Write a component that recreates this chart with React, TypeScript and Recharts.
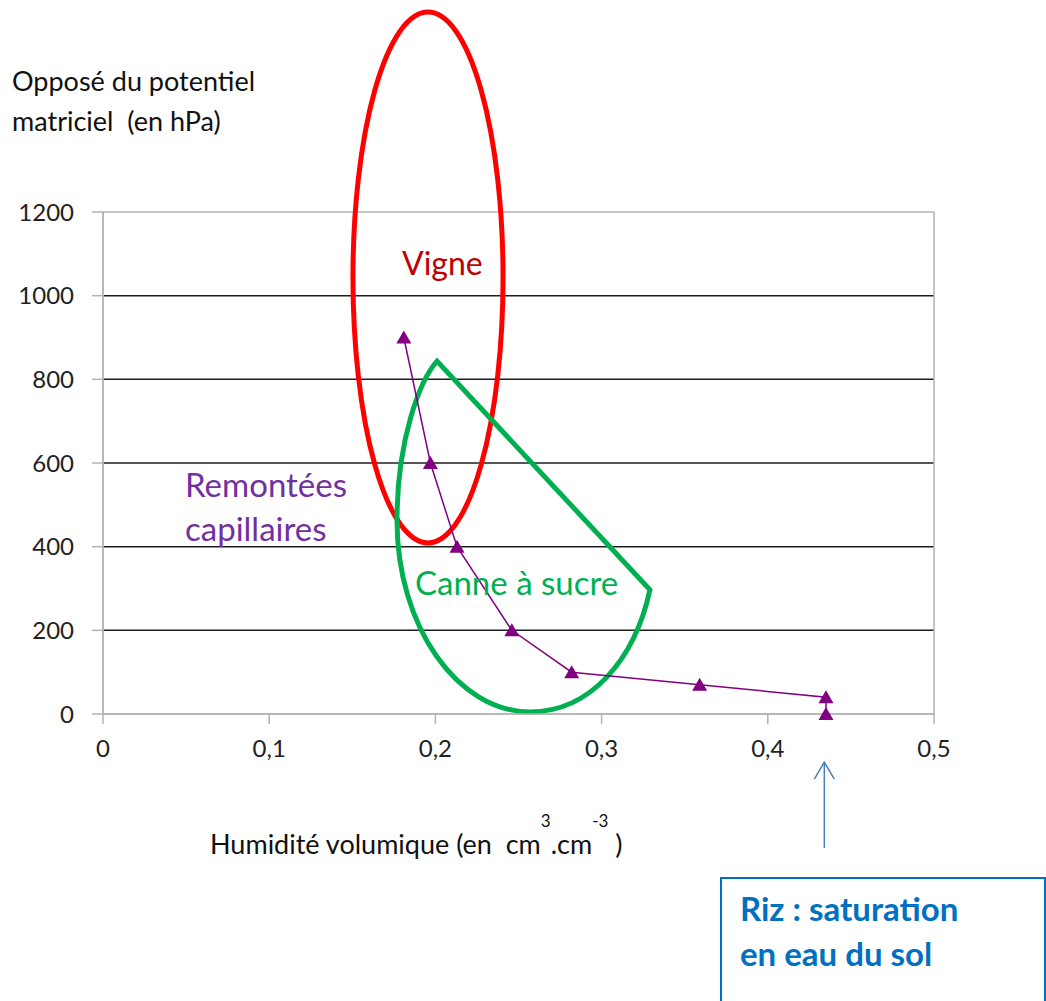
import React from 'react';
import {
  ComposedChart,
  Line,
  XAxis,
  YAxis,
  CartesianGrid,
  ReferenceArea,
  ReferenceLine,
} from 'recharts';

// humidité volumique (cm3.cm-3) et opposé du potentiel matriciel (hPa)
const humidity = [0.181, 0.197, 0.213, 0.246, 0.282, 0.359, 0.435, 0.435];
const suction = [900, 600, 400, 200, 100, 70, 40, 0];
const xTicks = [0, 0.1, 0.2, 0.3, 0.4, 0.5];
const yTicks = [0, 200, 400, 600, 800, 1000, 1200];
const gridValues = [200, 400, 600, 800, 1000];

// zones dessinées à la main, en coordonnées du graphique
const vigneZone = { x1: 0.1504, x2: 0.2407, y1: 409, y2: 1678 };
const canneZone = { x1: 0.1769, x2: 0.3303, y1: 5, y2: 846 };
const rizArrow = [{ x: 0.434, y: -115 }, { x: 0.434, y: -320 }];

const data = humidity.map((h, i) => ({ h, p: suction[i] }));

const FONT = 'Lato, "Open Sans", sans-serif';

const Triangle = (props: any) => {
  const { cx, cy } = props;
  if (cx == null || cy == null) return null;
  return <path d={`M${cx},${cy - 7} L${cx - 7.5},${cy + 6} L${cx + 7.5},${cy + 6} Z`} fill="#800080" />;
};

const VigneShape = (p: any) => {
  const { x, y, width, height } = p;
  return (
    <ellipse
      cx={x + width / 2}
      cy={y + height / 2}
      rx={Math.abs(width) / 2}
      ry={Math.abs(height) / 2}
      fill="none"
      stroke="#ff0000"
      strokeWidth={5}
    />
  );
};

const CanneShape = (p: any) => {
  const { x, y, width: w, height: h } = p;
  const X = (f: number) => x + f * w;
  const Y = (f: number) => y + f * h;
  const d =
    `M${X(0.157)},${Y(0.003)} L${X(0.992)},${Y(0.653)} ` +
    `C${X(0.933)},${Y(0.852)} ${X(0.757)},${Y(1)} ${X(0.522)},${Y(1)} ` +
    `C${X(0.24)},${Y(1)} ${X(0)},${Y(0.76)} ${X(0)},${Y(0.455)} ` +
    `C${X(0)},${Y(0.227)} ${X(0.09)},${Y(0.057)} ${X(0.157)},${Y(0.003)} Z`;
  return <path d={d} fill="none" stroke="#00b050" strokeWidth={5} strokeLinejoin="miter" />;
};

const ArrowShape = (p: any) => {
  const { x1, y1, x2, y2 } = p;
  return (
    <g stroke="#4a7ebb" strokeWidth={1.5} fill="none">
      <line x1={x1} y1={y1} x2={x2} y2={y2} />
      <path d={`M${x1 - 10},${y1 + 17} L${x1},${y1} L${x1 + 10},${y1 + 17}`} />
    </g>
  );
};

const fmt = (v: number) => String(v).replace('.', ',');

export default function App() {
  return (
    <div
      style={{
        position: 'absolute',
        left: 0,
        top: 0,
        width: 1046,
        height: 1001,
        overflow: 'hidden',
        background: '#fff',
        fontFamily: FONT,
      }}
    >
      <ComposedChart
        width={1046}
        height={1001}
        data={data}
        margin={{ top: 212, right: 112, bottom: 227, left: 0 }}
      >
        <CartesianGrid
          vertical={false}
          horizontalValues={gridValues}
          stroke="#1e1e1e"
          strokeWidth={1.5}
        />
        <XAxis
          dataKey="h"
          type="number"
          domain={[0, 0.5]}
          ticks={xTicks}
          tickFormatter={fmt}
          height={60}
          tickSize={10}
          tickMargin={16}
          stroke="#b3b3b3"
          strokeWidth={1.5}
          tick={{ fontSize: 24, fill: '#222', fontFamily: FONT }}
        />
        <YAxis
          dataKey="p"
          type="number"
          domain={[0, 1200]}
          ticks={yTicks}
          width={103}
          tickSize={11}
          tickMargin={18}
          stroke="#b3b3b3"
          strokeWidth={1.5}
          tick={{ fontSize: 24, fill: '#222', fontFamily: FONT }}
        />
        <ReferenceArea x1={0} x2={0.5} y1={0} y2={1200} fill="none" stroke="#b3b3b3" strokeWidth={1.5} />
        <Line
          dataKey="p"
          stroke="#800080"
          strokeWidth={1.5}
          dot={<Triangle />}
          activeDot={false}
          isAnimationActive={false}
        />
        <ReferenceArea {...vigneZone} ifOverflow="visible" shape={<VigneShape />} />
        <ReferenceArea {...canneZone} ifOverflow="visible" shape={<CanneShape />} />
        <ReferenceLine segment={rizArrow} ifOverflow="visible" shape={<ArrowShape />} />
      </ComposedChart>

      <div style={{ position: 'absolute', left: 12, top: 61, fontSize: 27, lineHeight: '40px', color: '#111', whiteSpace: 'nowrap' }}>
        Opposé du potentiel
        <br />
        matriciel&nbsp; (en hPa)
      </div>

      <div style={{ position: 'absolute', left: 210, top: 824, fontSize: 27, lineHeight: '40px', color: '#111', whiteSpace: 'nowrap' }}>
        Humidité volumique (en&nbsp; cm
        <span style={{ position: 'relative', top: -27, fontSize: 17 }}>3</span>
        .cm
        <span style={{ position: 'relative', top: -27, fontSize: 17 }}>-3</span>
        &nbsp;)
      </div>

      <div style={{ position: 'absolute', left: 402, top: 247, fontSize: 32, lineHeight: '32px', color: '#c00000' }}>
        Vigne
      </div>

      <div style={{ position: 'absolute', left: 185, top: 462, fontSize: 33, lineHeight: '44px', color: '#7030a0', whiteSpace: 'nowrap' }}>
        Remontées
        <br />
        capillaires
      </div>

      <div style={{ position: 'absolute', left: 415, top: 566, fontSize: 33, lineHeight: '33px', color: '#00b050', whiteSpace: 'nowrap' }}>
        Canne à sucre
      </div>

      <div
        style={{
          position: 'absolute',
          left: 720,
          top: 877,
          width: 326,
          height: 140,
          border: '2px solid #0070c0',
          boxSizing: 'border-box',
        }}
      />
      <div
        style={{
          position: 'absolute',
          left: 740,
          top: 886,
          fontSize: 33,
          lineHeight: '45px',
          fontWeight: 700,
          color: '#0070c0',
          whiteSpace: 'nowrap',
        }}
      >
        Riz : saturation
        <br />
        en eau du sol
      </div>
    </div>
  );
}
